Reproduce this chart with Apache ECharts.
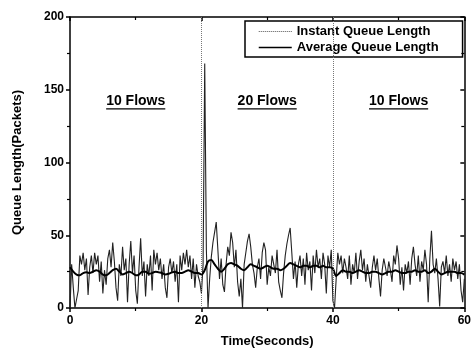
<!DOCTYPE html>
<html><head><meta charset="utf-8">
<script src="https://cdn.jsdelivr.net/npm/echarts@6/dist/echarts.min.js"></script>
<style>html,body{margin:0;padding:0;background:#fff}#c{width:474px;height:353px}</style>
</head><body><div id="c"></div>
<script>
// ---- data ----
const instantStep = 0.25; // seconds between instant samples
const instantQueue = [
 0,30,14,0,6,12,36,30,38,26,34,9,28,36,24,38,30,36,18,32,
 10,26,16,34,40,28,45,32,14,5,30,22,42,26,34,4,30,46,24,36,
 12,3,28,48,22,32,8,30,22,36,12,40,30,38,26,34,20,30,14,7,
 28,34,24,32,18,30,4,36,26,38,30,40,28,36,20,34,14,30,22,18,
 10,30,168,40,0,20,35,45,52,59,40,20,34,16,11,30,42,36,52,45,
 28,40,18,8,20,0,30,38,46,51,42,30,24,14,28,34,20,38,45,40,
 16,28,22,36,30,24,40,18,12,7,24,36,44,50,55,38,20,32,14,30,
 36,22,34,16,38,26,32,12,36,24,40,28,34,20,38,30,10,36,28,40,
 5,0,20,38,30,36,24,34,28,20,36,16,30,24,38,20,32,40,26,34,
 18,30,22,14,28,36,26,34,20,8,26,34,28,22,32,26,18,36,30,43,
 34,16,28,12,30,24,32,16,34,42,30,22,36,18,32,26,40,30,4,34,
 53,30,24,34,20,1,28,32,24,36,22,30,18,34,26,32,20,30,12,4,
 20
];
const averageStep = 0.5; // seconds between average samples
const averageQueue = [
 28,25,23,22.5,24,24.5,24,25,26,25,23,22.5,24,26,27,25,23,24,25,24,
 22.5,23,25,25,23.5,24,25,24.5,24,23,23.5,24.5,25,24,24,25,26,25,24,24,
 23,26,32,33,30,27,25,27,30,31,30,29,27,26,28,30,29,28,27,28,
 29,28,27,27,26,27,29,31,30,29,28,29,29,28,29,29,28,29,28,28,
 27,22,24,26,25,25,24,25,26,25,24,24,25,25,24,23,24,25,25,26,
 25,24,24,25,25,26,25,25,26,24,25,27,25,23,24,25,25,25,24,24,
 23
];
const phaseBoundaries = [20, 40];
const phaseLabels = ['10 Flows', '20 Flows', '10 Flows'];
const phaseLabelX = [10, 30, 50];
const phaseLabelY = 142;
const seriesNames = ['Instant Queue Length', 'Average Queue Length'];

// ---- chart ----
const FONT = "'Liberation Sans', Arial, sans-serif";
const instantData = instantQueue.map((v, i) => [i * instantStep, v]);
const averageData = averageQueue.map((v, i) => [i * averageStep, v]);

const chart = echarts.init(document.getElementById('c'), null, {renderer: 'canvas'});
const axisLine = {show: true, onZero: false, lineStyle: {color: '#000', width: 1.5}};
const labelStyle = {color: '#000', fontFamily: FONT, fontWeight: 'bold', fontSize: 12};

chart.setOption({
  animation: false,
  backgroundColor: '#fff',
  grid: {left: 70, right: 6, top: 17, bottom: 45},
  legend: {
    left: 245, top: 21, orient: 'vertical',
    padding: [4, 24, 3, 13], itemGap: 3, itemWidth: 33, itemHeight: 14,
    borderColor: '#000', borderWidth: 1.5,
    itemStyle: {opacity: 0},
    textStyle: {color: '#000', fontFamily: FONT, fontWeight: 'bold', fontSize: 13},
    data: [
      {name: seriesNames[0], itemStyle: {opacity: 0}, lineStyle: {type: 'dotted', color: '#555', width: 1}},
      {name: seriesNames[1], itemStyle: {opacity: 0}, lineStyle: {color: '#000', width: 1.5}}
    ]
  },
  xAxis: [{
    type: 'value', min: 0, max: 60, interval: 20,
    name: 'Time(Seconds)', nameLocation: 'middle', nameGap: 27,
    nameTextStyle: {color: '#000', fontFamily: FONT, fontWeight: 'bold', fontSize: 13},
    axisLine: axisLine,
    axisTick: {show: true, inside: false, length: 4, lineStyle: {color: '#000', width: 1.5}},
    minorTick: {show: true, splitNumber: 2, length: 3, lineStyle: {color: '#000', width: 1.2}},
    axisLabel: Object.assign({margin: 7}, labelStyle),
    splitLine: {show: false}
  }, {
    type: 'value', min: 0, max: 60, interval: 20, position: 'top',
    axisLine: axisLine,
    axisTick: {show: true, inside: true, length: 4, lineStyle: {color: '#000', width: 1.5}},
    minorTick: {show: true, splitNumber: 2, length: 3, lineStyle: {color: '#000', width: 1.2}},
    axisLabel: {show: false}, splitLine: {show: false}
  }],
  yAxis: [{
    type: 'value', min: 0, max: 200, interval: 50,
    name: 'Queue Length(Packets)', nameLocation: 'middle', nameGap: 46,
    nameTextStyle: {color: '#000', fontFamily: FONT, fontWeight: 'bold', fontSize: 13},
    axisLine: axisLine,
    axisTick: {show: true, inside: false, length: 4, lineStyle: {color: '#000', width: 1.5}},
    minorTick: {show: true, splitNumber: 2, length: 3, lineStyle: {color: '#000', width: 1.2}},
    axisLabel: Object.assign({margin: 6}, labelStyle),
    splitLine: {show: false}
  }, {
    type: 'value', min: 0, max: 200, interval: 50, position: 'right',
    axisLine: axisLine,
    axisTick: {show: true, inside: true, length: 4, lineStyle: {color: '#000', width: 1.5}},
    minorTick: {show: true, splitNumber: 2, length: 3, lineStyle: {color: '#000', width: 1.2}},
    axisLabel: {show: false}, splitLine: {show: false}
  }],
  series: [{
    name: seriesNames[0], type: 'line', data: instantData,
    symbol: 'none', color: '#333',
    lineStyle: {color: '#222', width: 1.1},
    markLine: {
      silent: true, symbol: 'none', label: {show: false},
      lineStyle: {type: 'dotted', color: '#777', width: 1},
      data: phaseBoundaries.map(x => ({xAxis: x}))
    },
    z: 2
  }, {
    name: seriesNames[1], type: 'line', data: averageData,
    symbol: 'none', smooth: 0.3, color: '#000',
    lineStyle: {color: '#000', width: 2}, z: 3
  }]
});

// phase annotations, placed through the axes' scale
const ctx = document.createElement('canvas').getContext('2d');
ctx.font = "bold 14px 'Liberation Sans', Arial, sans-serif";
const graphics = [];
phaseLabels.forEach((txt, i) => {
  const p = chart.convertToPixel({xAxisIndex: 0, yAxisIndex: 0}, [phaseLabelX[i], phaseLabelY]);
  const tw = ctx.measureText(txt).width;
  graphics.push({
    type: 'text', x: p[0], y: p[1],
    style: {text: txt, fill: '#000', font: "bold 14px 'Liberation Sans', Arial, sans-serif",
            textAlign: 'center', textVerticalAlign: 'middle'}
  });
  graphics.push({
    type: 'line', shape: {x1: p[0] - tw / 2, y1: p[1] + 7.5, x2: p[0] + tw / 2, y2: p[1] + 7.5},
    style: {stroke: '#000', lineWidth: 1.3}
  });
});
chart.setOption({graphic: graphics});
</script>
</body></html>
